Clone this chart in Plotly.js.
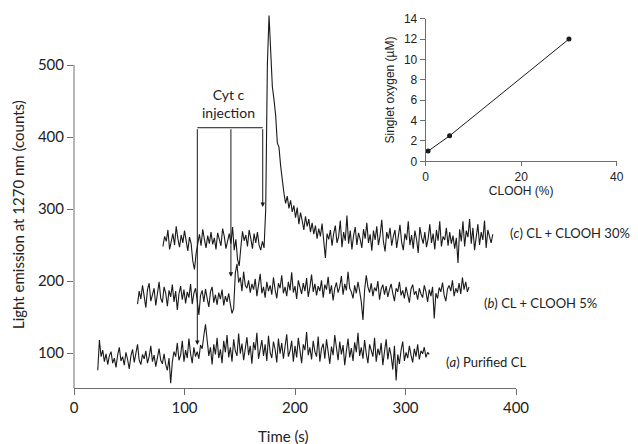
<!DOCTYPE html>
<html>
<head>
<meta charset="utf-8">
<script src="https://cdn.plot.ly/plotly-3.0.1.min.js"></script>
<style>html,body{margin:0;padding:0;background:#fff;}#chart{width:638px;height:444px;}</style>
</head>
<body>
<div id="chart"></div>
<script>
// ---------------- data ----------------
// sampling grid of the traces (s)
const sampleStep = 1.5;
const startA = 21.5, startB = 57.5, startC = 80.5;

// (a) Purified CL
const traceA = [
 76,118,95,104,88,99,84,96,102,86,
 93,80,97,108,89,95,83,101,91,78,
 96,105,87,99,112,90,84,98,92,103,
 86,95,110,88,97,81,94,106,90,85,
 99,84,76,93,58,88,102,95,114,90,
 97,117,88,104,93,120,99,86,108,95,
 102,92,111,106,124,140,118,96,108,84,
 112,98,121,93,105,86,117,101,125,94,
 108,88,119,103,96,127,99,113,90,106,
 122,97,110,85,115,104,128,92,107,118,
 96,112,89,124,101,93,116,105,87,120,
 99,114,92,108,126,95,103,117,88,110,
 94,121,100,86,112,104,129,97,108,91,
 117,102,95,123,88,106,113,92,119,100,
 85,109,97,125,104,90,116,98,111,83,
 103,120,94,107,89,115,101,128,96,108,
 92,118,99,86,112,104,95,121,88,106,
 97,114,83,102,119,91,108,96,77,110,
 62,98,85,104,116,89,101,93,110,97,
 87,106,95,112,91,103,99,108,94,101,
 98];

// (b) CL + CLOOH 5%
const traceB = [
 168,186,175,194,179,163,188,197,172,181,
 190,166,184,199,176,170,192,183,165,187,
 178,195,171,186,160,182,193,174,188,169,
 185,177,196,168,183,190,173,153,180,187,
 171,189,176,164,185,192,170,181,167,184,
 175,188,166,179,171,183,168,155,162,211,
 224,198,205,186,213,194,190,201,184,196,
 188,203,179,195,210,183,192,177,199,186,
 194,181,205,188,176,197,190,208,183,192,
 179,199,187,212,184,193,175,201,189,182,
 197,186,204,178,192,209,185,196,180,193,
 186,201,177,195,188,206,182,194,173,190,
 198,184,192,207,181,196,187,213,190,185,
 176,194,183,199,186,171,146,188,208,192,
 184,197,179,191,186,200,174,189,195,181,
 193,178,188,196,183,172,190,185,199,180,
 187,176,192,183,170,189,195,181,186,174,
 190,182,177,194,185,171,188,179,192,148,
 183,176,191,185,198,180,172,189,194,186,
 201,179,190,184,197,182,205,188,199,185,
 192];

// (c) CL + CLOOH 30%
const traceC = [
 248,262,255,271,244,258,266,250,276,259,
 247,264,253,270,257,242,261,252,228,216,
 238,255,265,249,272,258,246,263,252,268,
 251,260,244,267,256,249,273,262,245,258,
 266,252,275,243,258,230,221,247,269,256,
 264,248,271,259,245,266,253,268,250,243,
 255,246,300,500,569,520,470,452,430,392,
 386,360,338,322,308,318,301,312,296,305,
 288,302,279,295,284,271,290,276,286,268,
 281,265,277,259,273,262,280,254,232,266,
 258,271,249,266,277,253,262,284,247,268,
 256,291,252,270,244,263,275,250,267,258,
 246,272,259,281,253,265,242,270,257,276,
 250,263,285,255,241,268,259,274,249,262,
 271,246,260,278,254,243,266,257,283,250,
 264,245,270,258,239,275,261,252,268,247,
 259,279,253,266,244,271,256,283,248,262,
 257,274,249,268,252,263,245,260,225,272,
 255,283,248,270,261,286,252,274,243,266,
 279,250,268,257,284,246,271,262,253,265];

const traceLabels = ['(<i>a</i>) Purified CL', '(<i>b</i>) CL + CLOOH 5%', '(<i>c</i>) CL + CLOOH 30%'];

// Cyt c injection times (s) and the level each arrow points to
const injectionTimes = [111.6, 142, 170.8];
const injectionTips = [111, 206, 303];
const injectionBracketLevel = 413;

// inset
const cloohPct = [0.5, 5, 30];
const singletOxygen = [1.0, 2.5, 12.0];
const mainXTicks = [0, 100, 200, 300, 400];
const mainYTicks = [100, 200, 300, 400, 500];
const insetXTicks = [0, 20, 40];
const insetYTicks = [0, 2, 4, 6, 8, 10, 12, 14];

// ---------------- chart ----------------
const W = 638, H = 444;
const times = (start, arr) => arr.map((_, i) => start + i * sampleStep);

const lineStyle = {color: '#1a1a1a', width: 1.1};
const traces = [
  {x: times(startA, traceA), y: traceA, type: 'scatter', mode: 'lines', line: lineStyle, xaxis: 'x', yaxis: 'y', hoverinfo: 'skip'},
  {x: times(startB, traceB), y: traceB, type: 'scatter', mode: 'lines', line: lineStyle, xaxis: 'x', yaxis: 'y', hoverinfo: 'skip'},
  {x: times(startC, traceC), y: traceC, type: 'scatter', mode: 'lines', line: lineStyle, xaxis: 'x', yaxis: 'y', hoverinfo: 'skip'},
  {x: cloohPct, y: singletOxygen, type: 'scatter', mode: 'lines+markers', line: {color: '#1a1a1a', width: 1},
   marker: {color: '#1a1a1a', size: 5}, xaxis: 'x2', yaxis: 'y2', hoverinfo: 'skip'}
];

const yDom = [(H - 388) / H, (H - 14) / H];
const yRange = [51.4, 571];
const yPaper = v => yDom[0] + (v - yRange[0]) / (yRange[1] - yRange[0]) * (yDom[1] - yDom[0]);
const xDom = [74 / W, 516 / W];

const axisGrey = '#6e6e6e';
const mainFont = 'Lato, "Open Sans", sans-serif';
const insetFont = '"Liberation Sans", Arial, sans-serif';

const annotations = [];
injectionTimes.forEach((t, i) => {
  annotations.push({x: t, y: injectionTips[i], xref: 'x', yref: 'y', ax: t, ay: injectionBracketLevel,
    axref: 'x', ayref: 'y', text: '', showarrow: true, arrowhead: 2, arrowsize: 0.9, arrowwidth: 1,
    arrowcolor: '#1a1a1a', standoff: 0, startstandoff: 0});
});
annotations.push({x: (injectionTimes[0] + injectionTimes[2]) / 2 - 1.5, y: 446, xref: 'x', yref: 'y',
  text: 'Cyt c<br>injection', showarrow: false, font: {family: mainFont, size: 14, color: '#222'}, align: 'center'});
// trace labels
const labelPos = [[335, 87.5], [369, 169], [392.5, 267]];
traceLabels.forEach((txt, i) => {
  annotations.push({x: labelPos[i][0], y: labelPos[i][1], xref: 'x', yref: 'y', text: txt, showarrow: false,
    xanchor: 'left', yanchor: 'middle', font: {family: mainFont, size: 13, color: '#222'}});
});
// axis titles
annotations.push({x: 18 / W, y: (H - 215) / H, xref: 'paper', yref: 'paper', text: 'Light emission at 1270 nm (counts)',
  textangle: -90, showarrow: false, xanchor: 'center', yanchor: 'middle', font: {family: mainFont, size: 15, color: '#222'}});
annotations.push({x: 283 / W, y: (H - 436) / H, xref: 'paper', yref: 'paper', text: 'Time (s)',
  showarrow: false, xanchor: 'center', yanchor: 'middle', font: {family: mainFont, size: 15, color: '#222'}});

const shapes = [
  // main y axis line (drawn only up to the 500 tick, as in the reference)
  {type: 'line', xref: 'paper', yref: 'paper', x0: xDom[0], x1: xDom[0], y0: yPaper(yRange[0]), y1: yPaper(500),
   line: {color: axisGrey, width: 1}},
  // injection bracket
  {type: 'line', xref: 'x', yref: 'y', x0: injectionTimes[0], x1: injectionTimes[2], y0: injectionBracketLevel, y1: injectionBracketLevel,
   line: {color: '#1a1a1a', width: 1}}
];

const layout = {
  width: W, height: H,
  margin: {l: 0, r: 0, t: 0, b: 0},
  paper_bgcolor: '#ffffff', plot_bgcolor: 'rgba(0,0,0,0)',
  showlegend: false,
  font: {family: mainFont, color: '#222'},
  xaxis: {domain: xDom, range: [0, 400], anchor: 'y', tickvals: mainXTicks, ticks: 'outside', ticklen: 6,
    tickcolor: axisGrey, showline: true, linecolor: axisGrey, linewidth: 1, showgrid: false, zeroline: false,
    tickfont: {family: mainFont, size: 15, color: '#222'}, fixedrange: true},
  yaxis: {domain: yDom, range: yRange, anchor: 'x', tickvals: mainYTicks, ticks: 'outside', ticklen: 6,
    tickcolor: axisGrey, showline: false, showgrid: false, zeroline: false,
    tickfont: {family: mainFont, size: 15, color: '#222'}, fixedrange: true},
  xaxis2: {domain: [425.7 / W, 616.7 / W], range: [0, 40], anchor: 'y2', tickvals: insetXTicks, ticks: 'outside',
    ticklen: 4, tickcolor: axisGrey, showline: true, linecolor: axisGrey, linewidth: 1, showgrid: false, zeroline: false,
    tickfont: {family: insetFont, size: 12, color: '#222'},
    title: {text: 'CLOOH (%)', font: {family: insetFont, size: 12, color: '#222'}, standoff: 2}, fixedrange: true},
  yaxis2: {domain: [(H - 161.3) / H, (H - 18.7) / H], range: [0, 14], anchor: 'x2', tickvals: insetYTicks, ticks: 'outside',
    ticklen: 5, tickcolor: axisGrey, showline: true, linecolor: axisGrey, linewidth: 1, showgrid: false, zeroline: false,
    tickfont: {family: insetFont, size: 12, color: '#222'},
    title: {text: 'Singlet oxygen (µM)', font: {family: insetFont, size: 12, color: '#222'}, standoff: 6}, fixedrange: true},
  annotations: annotations,
  shapes: shapes
};

Plotly.newPlot('chart', traces, layout, {displayModeBar: false, staticPlot: true});
</script>
</body>
</html>
